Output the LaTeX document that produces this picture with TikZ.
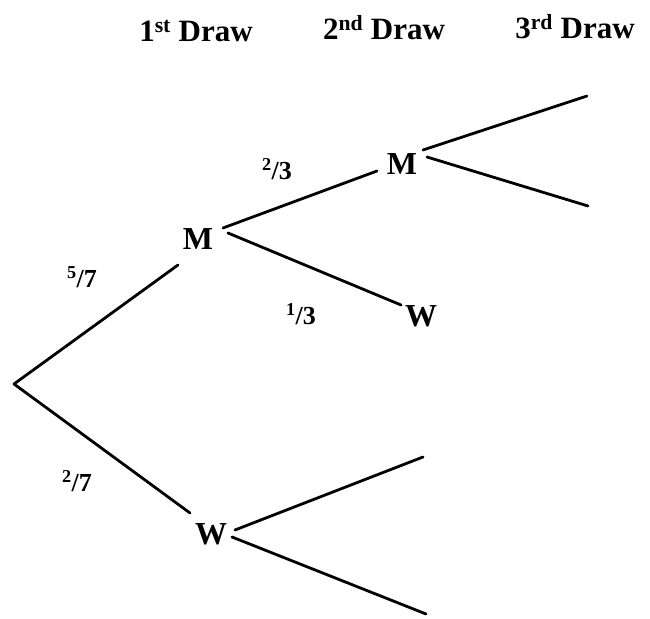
\documentclass[tikz,border=0pt]{standalone}
\usepackage{fontspec}
\setmainfont{Liberation Serif}
\begin{document}
\begin{tikzpicture}[x=1pt,y=1pt,
  hdr/.style={anchor=base,inner sep=0pt,font=\fontsize{31}{33}\selectfont\bfseries},
  lbl/.style={anchor=base,inner sep=0pt,font=\fontsize{32}{34}\selectfont\bfseries},
  frac/.style={anchor=base,inner sep=0pt,font=\fontsize{26}{28}\selectfont\bfseries},
  branch/.style={line width=2.8pt,line cap=round}]
\useasboundingbox (0,0) rectangle (650,618);
\fill[white] (0,0) rectangle (650,618);
% headers
\node[hdr] (h1) at (196,576) {1\textsuperscript{st} Draw};
\node[hdr] (h2) at (384,578) {2\textsuperscript{nd} Draw};
\node[hdr] (h3) at (575,579) {3\textsuperscript{rd} Draw};
% nodes
\coordinate (root) at (14,234);
\node[lbl] (M1) at (198,368) {M};
\node[lbl] (M2) at (402,443) {M};
\node[lbl] (W1) at (421,291) {W};
\node[lbl] (W2) at (211,73) {W};
\coordinate (e1) at (587,522);
\coordinate (e2) at (588,412);
\coordinate (e3) at (423,161);
\coordinate (e4) at (426,4);
% labels
\node[frac] (p57) at (82,330) {\textsuperscript{5}/7};
\node[frac] (p27) at (77,126) {\textsuperscript{2}/7};
\node[frac] (p23) at (277,438) {\textsuperscript{2}/3};
\node[frac] (p13) at (301,293) {\textsuperscript{1}/3};
% connectors
\draw[branch] (root) -- ([xshift=-20pt,yshift=-15pt]M1.base);
\draw[branch] (root) -- ([xshift=-21pt,yshift=32pt]W2.base);
\draw[branch] ([xshift=25pt,yshift=22pt]M1.base) -- ([xshift=-25pt,yshift=4pt]M2.base);
\draw[branch] ([xshift=30pt,yshift=17pt]M1.base) -- ([xshift=-20pt,yshift=22pt]W1.base);
\draw[branch] ([xshift=21pt,yshift=25pt]M2.base) -- (e1);
\draw[branch] ([xshift=25pt,yshift=18pt]M2.base) -- (e2);
\draw[branch] ([xshift=24pt,yshift=15pt]W2.base) -- (e3);
\draw[branch] ([xshift=21pt,yshift=8pt]W2.base) -- (e4);
\end{tikzpicture}
\end{document}
